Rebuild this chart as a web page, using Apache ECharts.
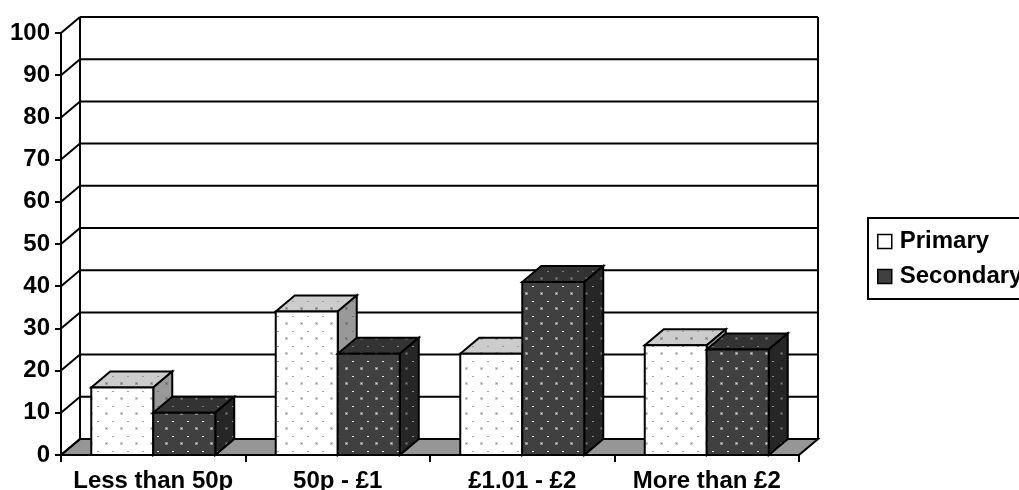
<!DOCTYPE html>
<html><head><meta charset="utf-8">
<style>html,body{margin:0;padding:0;background:#fff}#c{width:1019px;height:490px}</style>
<script src="https://cdn.jsdelivr.net/npm/echarts@6/dist/echarts.min.js"></script></head>
<body><div id="c"></div>
<script>
const categories = ['Less than 50p', '50p - £1', '£1.01 - £2', 'More than £2'];
const primary = [16, 34, 24, 26];
const secondary = [10, 24, 41, 25];
const yTicks = [0, 10, 20, 30, 40, 50, 60, 70, 80, 90, 100];

const DX = 19, DY = -16, BAR_RATIO = 62 / 184.5, FONT = '"Liberation Sans", Arial, sans-serif';

function dots(base, halo, big, small) {
  const c = document.createElement('canvas');
  c.width = 15; c.height = 15;
  const g = c.getContext('2d');
  g.fillStyle = base; g.fillRect(0, 0, 15, 15);
  g.fillStyle = halo; g.fillRect(0, 7, 3, 3);
  g.fillStyle = big; g.fillRect(1, 8, 1, 1);
  g.fillStyle = small; g.fillRect(7, 1, 2, 1);
  return { image: c, repeat: 'repeat' };
}
const faces = {
  Primary: {
    front: dots('#ffffff', '#cfcfcf', '#8c8c8c', '#a0a0a0'),
    top: dots('#cccccc', '#a0a0a0', '#777777', '#999999'),
    side: dots('#999999', '#808080', '#5c5c5c', '#707070')
  },
  Secondary: {
    front: dots('#404040', '#8a8a8a', '#e0e0e0', '#e8e8e8'),
    top: dots('#333333', '#555555', '#8a8a8a', '#808080'),
    side: dots('#262626', '#484848', '#8a8a8a', '#909090')
  }
};
const edge = { stroke: '#000', lineWidth: 2, lineJoin: 'miter' };

function wall(params, api) {
  const cs = params.coordSys;
  const x0 = cs.x, x1 = cs.x + cs.width;
  const v = api.value(0);
  const y = api.coord([0, v])[1];
  const children = [];
  if (params.dataIndex === 0) {
    const yTop = api.coord([0, yTicks[yTicks.length - 1]])[1];
    children.push({ type: 'polygon', shape: { points: [[x0, y], [x1, y], [x1 + DX, y + DY], [x0 + DX, y + DY]] }, style: { fill: '#969696', ...edge } });
    children.push({ type: 'line', shape: { x1: x0 + DX, y1: y + DY, x2: x0 + DX, y2: yTop + DY }, style: edge });
    children.push({ type: 'line', shape: { x1: x1 + DX, y1: y + DY, x2: x1 + DX, y2: yTop + DY }, style: edge });
  } else {
    children.push({ type: 'line', shape: { x1: x0 + DX, y1: y + DY, x2: x1 + DX, y2: y + DY }, style: edge });
  }
  children.push({ type: 'line', shape: { x1: x0, y1: y, x2: x0 + DX, y2: y + DY }, style: edge });
  return { type: 'group', children };
}

function bar(name, side) {
  return function (params, api) {
    const c = api.value(0), v = api.value(1);
    const w = api.size([1, 0])[0] * BAR_RATIO;
    const top = api.coord([c, v]), bottom = api.coord([c, 0]);
    const l = top[0] + (side < 0 ? -w : 0), r = l + w, t = top[1], b = bottom[1];
    const f = faces[name];
    return { type: 'group', children: [
      { type: 'polygon', shape: { points: [[l, t], [r, t], [r + DX, t + DY], [l + DX, t + DY]] }, style: { fill: f.top, ...edge } },
      { type: 'polygon', shape: { points: [[r, t], [r + DX, t + DY], [r + DX, b + DY], [r, b]] }, style: { fill: f.side, ...edge } },
      { type: 'rect', shape: { x: l, y: t, width: w, height: b - t }, style: { fill: f.front, ...edge } }
    ] };
  };
}

const chart = echarts.init(document.getElementById('c'));
chart.setOption({
  animation: false,
  backgroundColor: '#fff',
  textStyle: { fontFamily: FONT },
  grid: { left: 61, right: 220, top: 33, bottom: 35, outerBoundsMode: 'none' },
  legend: {
    data: [
      { name: 'Primary', icon: 'rect', itemStyle: { color: '#fff', borderColor: '#000', borderWidth: 1.5 } },
      { name: 'Secondary', icon: 'rect', itemStyle: { color: '#404040', borderColor: '#000', borderWidth: 1.5 } }
    ],
    orient: 'vertical', left: 868, top: 218, selectedMode: false,
    padding: [10, 30, 9, 9], itemWidth: 14, itemHeight: 14, itemGap: 8,
    borderColor: '#000', borderWidth: 2, backgroundColor: '#fff',
    textStyle: { fontFamily: FONT, fontWeight: 'bold', fontSize: 24, lineHeight: 27, color: '#000', padding: [0, 0, 0, 3] }
  },
  xAxis: {
    type: 'category', data: categories, z: 6,
    axisLine: { onZero: false, lineStyle: { color: '#000', width: 2 } },
    axisTick: { show: true, alignWithLabel: false, length: 7, lineStyle: { color: '#000', width: 2 } },
    axisLabel: { color: '#000', fontFamily: FONT, fontWeight: 'bold', fontSize: 24, margin: 14, interval: 0 },
    splitLine: { show: false }
  },
  yAxis: {
    type: 'value', min: 0, max: 100, interval: 10, z: 6,
    axisLine: { show: true, lineStyle: { color: '#000', width: 2 } },
    axisTick: { show: true, length: 6, lineStyle: { color: '#000', width: 2 } },
    axisLabel: { color: '#000', fontFamily: FONT, fontWeight: 'bold', fontSize: 24, margin: 11 },
    splitLine: { show: false }
  },
  series: [
    { type: 'custom', name: 'wall', silent: true, z: 1, clip: false, renderItem: wall,
      encode: { y: 0 }, data: yTicks.map(v => [v]) },
    { type: 'custom', name: 'Primary', z: 2, clip: false, renderItem: bar('Primary', -1),
      encode: { x: 0, y: 1 }, itemStyle: { color: '#fff' }, data: primary.map((v, i) => [i, v]) },
    { type: 'custom', name: 'Secondary', z: 3, clip: false, renderItem: bar('Secondary', 1),
      encode: { x: 0, y: 1 }, itemStyle: { color: '#404040' }, data: secondary.map((v, i) => [i, v]) }
  ]
});
</script></body></html>
